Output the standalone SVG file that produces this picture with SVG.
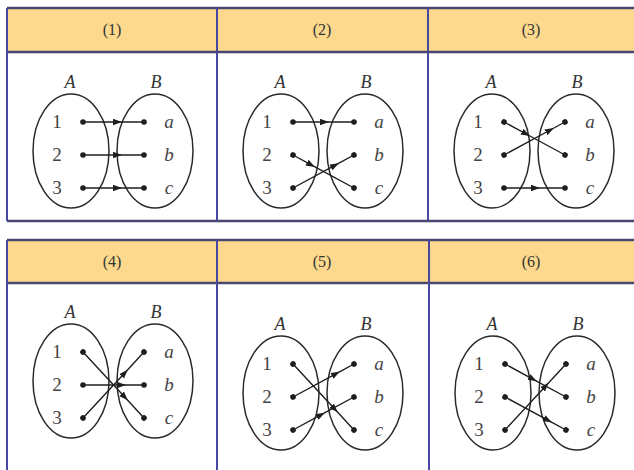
<svg xmlns="http://www.w3.org/2000/svg" width="634" height="470" viewBox="0 0 634 470">
<style>
.hdr{fill:#fcd98c}
.hl{stroke:#4a4870;stroke-width:2.5;fill:none}
.vl{stroke:#4848a0;stroke-width:2;fill:none}
.ht{font-family:"Liberation Serif",serif;font-size:16px;fill:#333;text-anchor:middle}
.set{fill:none;stroke:#2a2a2a;stroke-width:1.5}
.lab{font-family:"Liberation Serif",serif;font-style:italic;font-size:18px;fill:#333;text-anchor:middle}
.num{font-family:"Liberation Serif",serif;font-size:19px;fill:#444;text-anchor:middle}
.el{font-family:"Liberation Serif",serif;font-style:italic;font-size:19px;fill:#444;text-anchor:middle}
.c{fill:none;stroke:#1e1e1e;stroke-width:1.4;marker-start:url(#dot);marker-mid:url(#arr);marker-end:url(#dot)}
</style>
<defs>
<marker id="dot" markerUnits="userSpaceOnUse" markerWidth="8" markerHeight="8" refX="4" refY="4" orient="auto"><circle cx="4" cy="4" r="2.8" fill="#1e1e1e"/></marker>
<marker id="arr" markerUnits="userSpaceOnUse" markerWidth="10" markerHeight="8" refX="8" refY="3.25" orient="auto"><path d="M0,0 L9,3.25 L0,6.5 Z" fill="#1e1e1e"/></marker>
<g id="sets">
<ellipse class="set" cx="64" cy="0" rx="38" ry="57"/>
<ellipse class="set" cx="148" cy="0" rx="38" ry="57"/>
<text class="lab" x="63" y="-63">A</text>
<text class="lab" x="149" y="-63">B</text>
<text class="num" x="50" y="-23">1</text>
<text class="num" x="50" y="10">2</text>
<text class="num" x="50" y="43">3</text>
<text class="el" x="162" y="-23">a</text>
<text class="el" x="162" y="10">b</text>
<text class="el" x="162" y="43">c</text>
</g>
</defs>
<rect width="634" height="470" fill="#ffffff"/>
<g id="table-top">
<rect class="hdr" x="7" y="8" width="627" height="44"/>
<line class="hl" x1="7" y1="8" x2="634" y2="8"/>
<line class="hl" x1="7" y1="52" x2="634" y2="52"/>
<line class="hl" x1="7" y1="221" x2="634" y2="221"/>
<line class="vl" x1="7" y1="8" x2="7" y2="221"/>
<line class="vl" x1="217" y1="8" x2="217" y2="221"/>
<line class="vl" x1="428" y1="8" x2="428" y2="221"/>
<text class="ht" x="112" y="35">(1)</text>
<text class="ht" x="322" y="35">(2)</text>
<text class="ht" x="531" y="35">(3)</text>
</g>
<g id="table-bottom">
<rect class="hdr" x="7" y="240" width="627" height="43"/>
<line class="hl" x1="7" y1="240" x2="634" y2="240"/>
<line class="hl" x1="7" y1="283" x2="634" y2="283"/>
<line class="vl" x1="7" y1="240" x2="7" y2="470"/>
<line class="vl" x1="217" y1="240" x2="217" y2="470"/>
<line class="vl" x1="429" y1="240" x2="429" y2="470"/>
<text class="ht" x="112" y="267">(4)</text>
<text class="ht" x="322" y="267">(5)</text>
<text class="ht" x="531" y="267">(6)</text>
</g>
<g id="panel1" transform="translate(7,151)">
<use href="#sets"/>
<g id="p1-connectors">
<path class="c" d="M76,-29 L114,-29 L137,-29"/>
<path class="c" d="M76,4 L114,4 L137,4"/>
<path class="c" d="M76,37 L114,37 L137,37"/>
</g>
</g>
<g id="panel2" transform="translate(217,151)">
<use href="#sets"/>
<g id="p2-connectors">
<path class="c" d="M76,-29 L111,-29 L137,-29"/>
<path class="c" d="M76,4 L97,15.4 L137,37"/>
<path class="c" d="M76,37 L121,12.7 L137,4"/>
</g>
</g>
<g id="panel3" transform="translate(428,151)">
<use href="#sets"/>
<g id="p3-connectors">
<path class="c" d="M76,-29 L101,-15.5 L137,4"/>
<path class="c" d="M76,4 L125,-22.5 L137,-29"/>
<path class="c" d="M76,37 L111,37 L137,37"/>
</g>
</g>
<g id="panel4" transform="translate(7,381)">
<use href="#sets"/>
<g id="p4-connectors">
<path class="c" d="M76,-29 L120,18.6 L137,37"/>
<path class="c" d="M76,4 L118,4 L137,4"/>
<path class="c" d="M76,37 L120,-10.6 L137,-29"/>
</g>
</g>
<g id="panel5" transform="translate(217,393)">
<use href="#sets"/>
<g id="p5-connectors">
<path class="c" d="M76,-29 L120,18.6 L137,37"/>
<path class="c" d="M76,4 L122,-20.9 L137,-29"/>
<path class="c" d="M76,37 L107,20.2 L137,4"/>
</g>
</g>
<g id="panel6" transform="translate(429,393)">
<use href="#sets"/>
<g id="p6-connectors">
<path class="c" d="M76,-29 L107,-12.2 L137,4"/>
<path class="c" d="M76,4 L122,28.9 L137,37"/>
<path class="c" d="M76,37 L119,-9.5 L137,-29"/>
</g>
</g>
</svg>
